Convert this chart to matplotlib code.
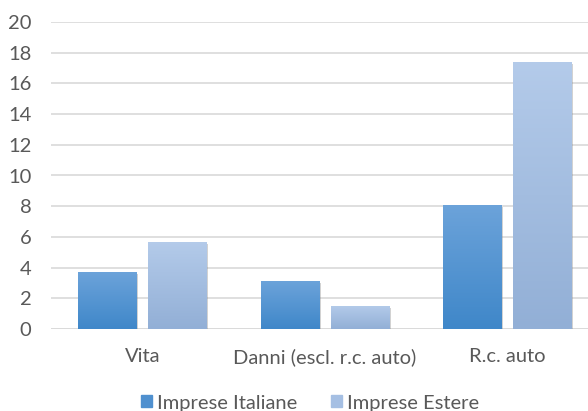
import numpy as np
import matplotlib
matplotlib.use("Agg")
import matplotlib.pyplot as plt
import matplotlib.patheffects as pe
from matplotlib.colors import LinearSegmentedColormap

categorie = ["Vita", "Danni (escl. r.c. auto)", "R.c. auto"]
italiane = [3.7, 3.1, 8.1]
estere = [5.7, 1.5, 17.4]
serie = ["Imprese Italiane", "Imprese Estere"]

plt.rcParams['font.family'] = ['Lato', 'DejaVu Sans']
fs = 14.5

fig = plt.figure(figsize=(5.88, 4.11), dpi=100)
ax = fig.add_axes([51 / 588, 1 - 329 / 411, 1 - 51 / 588, (329 - 22) / 411])

# gradienti stile Excel (alto -> basso)
cmap_it = LinearSegmentedColormap.from_list("it", ["#3F87C9", "#6CA3DA"])
cmap_es = LinearSegmentedColormap.from_list("es", ["#92AFD6", "#B4CBEA"])

x = np.arange(len(categorie))
w = 0.318
gap = 0.066
grad = np.linspace(0, 1, 256).reshape(-1, 1)

for vals, off, cmap, col in [(italiane, -(w + gap) / 2, cmap_it, "#5896D2"),
                             (estere, (w + gap) / 2, cmap_es, "#A5BFE3")]:
    bars = ax.bar(x + off, vals, w, color=col, zorder=2,
                  path_effects=[pe.SimplePatchShadow(offset=(1.5, -1.5), shadow_rgbFace="#7f7f7f", alpha=0.35),
                                pe.Normal()])
    for b in bars:
        x0, y0 = b.get_x(), b.get_y()
        im = ax.imshow(grad, cmap=cmap, origin="lower", aspect="auto",
                       extent=[x0, x0 + b.get_width(), y0, y0 + b.get_height()],
                       zorder=3)
        im.set_clip_path(b)

# l'area del grafico esce leggermente a destra dell'immagine
ax.set_xlim(-0.5, 2.5 - 10.5 / 182.5)
ax.set_ylim(0, 20)
ax.set_yticks(np.arange(0, 21, 2))
ax.set_xticks(x)
ax.set_xticklabels(categorie)
ax.yaxis.grid(True, color="#D9D9D9", linewidth=1.2, zorder=0)
ax.set_axisbelow(True)
for s in ax.spines.values():
    s.set_visible(False)
ax.tick_params(axis="both", length=0, labelsize=fs, colors="#595959")
ax.tick_params(axis="y", pad=14)
ax.tick_params(axis="x", pad=14)
ax.axhline(0, color="#D9D9D9", linewidth=1.2, zorder=1)

h1 = plt.Rectangle((0, 0), 1, 1, color="#4F90CF")
h2 = plt.Rectangle((0, 0), 1, 1, color="#A5BFE3")
fig.legend([h1, h2], serie, loc="center", bbox_to_anchor=(310 / 588, 1 - 403 / 411),
           ncol=2, frameon=False, fontsize=fs, labelcolor="#595959",
           handlelength=0.55, handleheight=0.55, handletextpad=0.25, columnspacing=1.65,
           borderpad=0)

plt.savefig("out.png", dpi=100)
